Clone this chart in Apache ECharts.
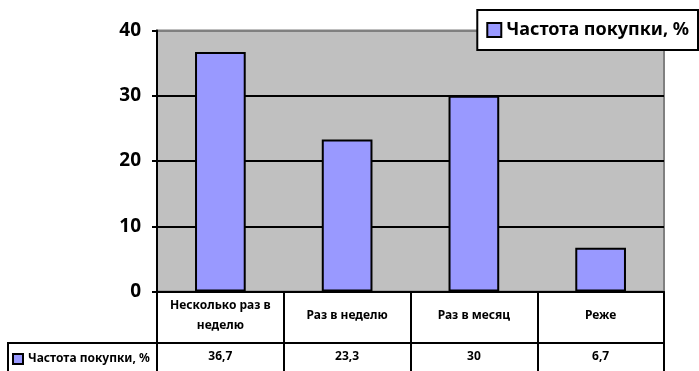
<!DOCTYPE html>
<html>
<head>
<meta charset="utf-8">
<script src="https://cdn.jsdelivr.net/npm/echarts@6/dist/echarts.min.js"></script>
<style>
    html, body { margin: 0; padding: 0; background: #fff; }
    #chart { width: 699px; height: 371px; }
</style>
</head>
<body>
<div id="chart"></div>
<script>
// data
const seriesName = 'Частота покупки, %';
const categories = ['Несколько раз в\nнеделю', 'Раз в неделю', 'Раз в месяц', 'Реже'];
const values = [36.7, 23.3, 30, 6.7];
const yMin = 0;
const yMax = 40;
const yStep = 10;

// values as they appear in the table row (comma decimals)
const valueLabels = values.map(v => String(v).replace('.', ','));

const font = '"Noto Sans", sans-serif';

const chart = echarts.init(document.getElementById('chart'));
chart.setOption({
    animation: false,
    textStyle: { fontFamily: font },
    grid: {
        left: 157,
        right: 35,
        top: 30.5,
        bottom: 79.5,
        show: true,
        backgroundColor: '#c0c0c0',
        borderColor: '#808080',
        borderWidth: 2
    },
    legend: [
        {
            data: [seriesName],
            right: 1,
            top: 10,
            padding: [9, 9, 9, 9],
            itemWidth: 14,
            itemHeight: 14,
            itemGap: 0,
            backgroundColor: '#fff',
            borderColor: '#000',
            borderWidth: 2,
            borderRadius: 0,
            icon: 'rect',
            itemStyle: { borderColor: '#000', borderWidth: 2 },
            textStyle: { fontSize: 18, lineHeight: 22, fontWeight: 'bold', color: '#000', fontFamily: font }
        },
        {
            data: [seriesName],
            left: 12,
            top: 353,
            padding: 0,
            itemWidth: 10,
            itemHeight: 10,
            icon: 'rect',
            itemStyle: { borderColor: '#000', borderWidth: 2 },
            textStyle: { fontSize: 12, fontWeight: 'bold', color: '#000', fontFamily: font }
        }
    ],
    xAxis: [
        {
            type: 'category',
            data: categories,
            position: 'bottom',
            axisLine: { lineStyle: { color: '#000', width: 2 } },
            axisTick: {
                show: true,
                length: 80,
                lineStyle: { color: '#000', width: 2 }
            },
            axisLabel: {
                interval: 0,
                margin: 24,
                verticalAlign: 'middle',
                lineHeight: 20,
                fontSize: 12,
                fontWeight: 'bold',
                color: '#000',
                fontFamily: font
            }
        },
        {
            type: 'category',
            data: valueLabels,
            position: 'bottom',
            offset: 51,
            axisLine: { lineStyle: { color: '#000', width: 2 } },
            axisTick: { show: false },
            axisLabel: {
                interval: 0,
                margin: 14,
                verticalAlign: 'middle',
                fontSize: 12,
                fontWeight: 'bold',
                color: '#000',
                fontFamily: font
            }
        }
    ],
    yAxis: {
        type: 'value',
        min: yMin,
        max: yMax,
        interval: yStep,
        axisLine: { show: true, lineStyle: { color: '#000', width: 2 } },
        axisTick: { show: true, length: 5, lineStyle: { color: '#000', width: 2 } },
        axisLabel: {
            margin: 16,
            fontSize: 19,
            fontWeight: 'bold',
            color: '#000',
            fontFamily: font
        },
        splitLine: {
            show: true,
            lineStyle: {
                color: ['#000', '#000', '#000', '#000', '#808080'],
                width: 2
            }
        }
    },
    // left cell of the data table (legend key row)
    graphic: [
        {
            type: 'line',
            shape: { x1: 8, y1: 343, x2: 158, y2: 343 },
            style: { stroke: '#000', lineWidth: 2 }
        },
        {
            type: 'line',
            shape: { x1: 8, y1: 342, x2: 8, y2: 372 },
            style: { stroke: '#000', lineWidth: 2 }
        }
    ],
    series: [
        {
            name: seriesName,
            type: 'bar',
            xAxisIndex: 0,
            data: values,
            barWidth: '40%',
            itemStyle: {
                color: '#9999ff',
                borderColor: '#000',
                borderWidth: 2
            }
        }
    ]
});
</script>
</body>
</html>
